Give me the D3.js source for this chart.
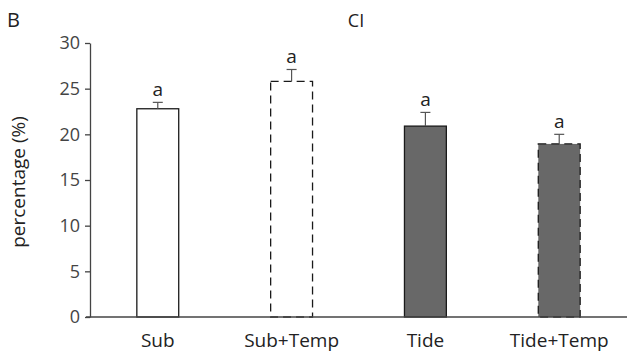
<!DOCTYPE html>
<html>
<head>
<meta charset="utf-8">
<script src="https://cdn.jsdelivr.net/npm/d3@7"></script>
<style>
  body { margin: 0; background: #fff; }
  text { font-family: "Open Sans", "Noto Sans", sans-serif; }
</style>
</head>
<body>
<script>
const categories = ["Sub", "Sub+Temp", "Tide", "Tide+Temp"];
const values = [22.8, 25.8, 20.9, 18.95];
const errors = [0.7, 1.3, 1.5, 1.05];
const letters = ["a", "a", "a", "a"];
const yTicks = [0, 5, 10, 15, 20, 25, 30];

const fills = ["#ffffff", "#ffffff", "#686868", "#686868"];
const dashed = [false, true, false, true];

const width = 627, height = 355;

const svg = d3.select("body")
    .append("svg")
    .attr("width", width)
    .attr("height", height);

const yScale = d3.scaleLinear()
    .domain([0, 30])
    .range([317, 43]);

const xScale = d3.scaleBand()
    .domain(categories)
    .range([90, 627])
    .paddingInner(0.687)
    .paddingOuter(0.35);

// bars
svg.selectAll(".bar")
    .data(categories)
    .enter()
    .append("rect")
    .attr("class", "bar")
    .attr("x", d => xScale(d))
    .attr("y", (d, i) => yScale(values[i]))
    .attr("width", xScale.bandwidth())
    .attr("height", (d, i) => yScale(0) - yScale(values[i]))
    .attr("fill", (d, i) => fills[i])
    .attr("stroke", "#1a1a1a")
    .attr("stroke-width", 1.3)
    .attr("stroke-dasharray", (d, i) => dashed[i] ? "8,5" : null);

// error bars
const err = svg.append("g");
categories.forEach((c, i) => {
    const cx = xScale(c) + xScale.bandwidth() / 2;
    err.append("line")
        .attr("x1", cx).attr("x2", cx)
        .attr("y1", yScale(values[i]))
        .attr("y2", yScale(values[i] + errors[i]))
        .attr("stroke", "#555").attr("stroke-width", 1.2);
    err.append("line")
        .attr("x1", cx - 5).attr("x2", cx + 5)
        .attr("y1", yScale(values[i] + errors[i]))
        .attr("y2", yScale(values[i] + errors[i]))
        .attr("stroke", "#555").attr("stroke-width", 1.2);
    err.append("text")
        .attr("x", cx)
        .attr("y", yScale(values[i] + errors[i]) - 6)
        .attr("text-anchor", "middle")
        .attr("font-size", "19px")
        .attr("fill", "#222")
        .text(letters[i]);
});

// y axis
const yAxis = svg.append("g")
    .attr("transform", "translate(90,0)")
    .call(d3.axisLeft(yScale).tickValues(yTicks).tickSize(5).tickPadding(5).tickSizeOuter(0));
yAxis.select(".domain").attr("stroke", "#444").attr("stroke-width", 1.3);
yAxis.selectAll(".tick line").attr("stroke", "#444").attr("stroke-width", 1.3);
yAxis.selectAll(".tick text")
    .attr("font-size", "18px")
    .attr("fill", "#444")
    .style("font-family", "'Open Sans', 'Noto Sans', sans-serif");

// x axis
const xAxis = svg.append("g")
    .attr("transform", "translate(0," + yScale(0) + ")")
    .call(d3.axisBottom(xScale).tickSize(0).tickPadding(17).tickSizeOuter(0));
xAxis.select(".domain").attr("d", "M86,0H627").attr("stroke", "#444").attr("stroke-width", 1.5);
xAxis.selectAll(".tick text")
    .attr("font-size", "19px")
    .attr("fill", "#222")
    .style("font-family", "'Open Sans', 'Noto Sans', sans-serif");

// y label
svg.append("text")
    .attr("transform", "translate(25,182) rotate(-90)")
    .attr("text-anchor", "middle")
    .attr("font-size", "19px")
    .attr("fill", "#222")
    .text("percentage (%)");

// title
svg.append("text")
    .attr("x", 356)
    .attr("y", 27)
    .attr("text-anchor", "middle")
    .attr("font-size", "18px")
    .attr("fill", "#222")
    .text("CI");

svg.append("text")
    .attr("x", 7)
    .attr("y", 27)
    .attr("font-size", "20px")
    .attr("fill", "#222")
    .text("B");
</script>
</body>
</html>
